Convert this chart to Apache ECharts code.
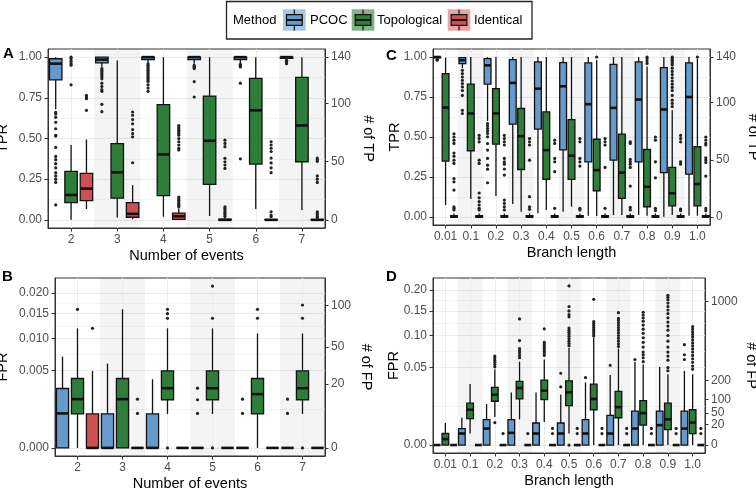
<!DOCTYPE html>
<html><head><meta charset="utf-8">
<script src="https://cdn.jsdelivr.net/npm/echarts@6/dist/echarts.min.js"></script>
<style>html,body{margin:0;padding:0;background:#fff}#c{width:756px;height:490px}</style>
</head><body><div id="c"></div>
<script>
// ---------------- data ----------------
const methods = ['PCOC', 'Topological', 'Identical'];
const eventCats = ['2', '3', '4', '5', '6', '7'];
const branchCats = ['0.01', '0.1', '0.2', '0.3', '0.4', '0.5', '0.6', '0.7', '0.8', '0.9', '1.0'];
const tprTicks = [0, 0.25, 0.5, 0.75, 1];
const tpTicks = [0, 50, 100, 140];
const fprTicksB = [0, 0.005, 0.01, 0.015, 0.02];
const fpTicksB = [0, 20, 50, 100];
const fprTicksD = [0, 0.05, 0.1, 0.15, 0.2];
const fpTicksD = [0, 20, 50, 100, 200, 1000];
const tpPerTpr = 140;      // secondary axis: TP count at TPR = 1
const fpPerFprB = 5900;    // secondary axis: FP count per unit FPR (panel B)
const fpPerFprD = 5800;    // secondary axis: FP count per unit FPR (panel D)

// box stats: [lower whisker, Q1, median, Q3, upper whisker]
// Panel A: TPR vs number of events
const A_pcoc = [[0.68,0.86,0.96,0.99,1.0],[0.94,0.965,0.985,1.0,1.0],[0.97,0.985,1.0,1.0,1.0],[0.96,0.985,1.0,1.0,1.0],[0.96,0.985,1.0,1.0,1.0],[0.985,0.993,1.0,1.0,1.0]];
const A_topo = [[0.0,0.106,0.153,0.298,0.46],[0.014,0.133,0.292,0.469,0.98],[0.02,0.149,0.402,0.708,1.0],[0.024,0.218,0.486,0.761,1.0],[0.067,0.343,0.673,0.869,1.0],[0.061,0.357,0.58,0.876,1.0]];
const A_iden = [[0.067,0.118,0.192,0.286,0.494],[0.004,0.016,0.037,0.106,0.214],[0.0,0.003,0.022,0.042,0.07],[0.0,0.0,0.0,0.004,0.01],[0.0,0.0,0.0,0.002,0.005],[0.0,0.0,0.0,0.002,0.005]];
const A_pcocOut = [[0.66,0.65,0.63,0.6,0.56,0.52,0.515,0.445,0.39,0.37,0.345,0.32,0.29,0.27,0.25,0.23,0.092],[0.93,0.92,0.91,0.9,0.89,0.88,0.867,0.84,0.82,0.8,0.79,0.71,0.665],[0.96,0.95,0.94,0.93,0.92,0.91,0.9,0.89,0.88,0.87,0.86,0.85,0.83,0.81,0.79],[0.95,0.945,0.94,0.935,0.93,0.85,0.755],[0.955,0.95,0.945,0.94,0.84,0.375],[0.98,0.975,0.97,0.96]];
const A_topoOut = [[1.0,0.99,0.975,0.96,0.95,0.83],[],[],[],[],[]];
const A_idenOut = [[0.765,0.755,0.745,0.673],[0.663,0.643,0.616,0.59,0.555,0.53,0.51,0.351],[0.58,0.57,0.56,0.55,0.54,0.53,0.52,0.5,0.48,0.46,0.44,0.43,0.14,0.13,0.12,0.11,0.1,0.09,0.08],[0.49,0.47,0.45,0.378,0.357,0.337,0.316,0.08,0.07,0.06,0.05,0.04,0.03,0.02],[0.48,0.46,0.44,0.42,0.38,0.35,0.32,0.29,0.05,0.03,0.02],[0.38,0.37,0.36,0.27,0.25,0.23,0.05,0.04,0.03,0.02,0.015]];

// Panel B: FPR vs number of events
const B_pcoc = [[0,0,0.00099,0.00294,0.00694],[0,0,0,0.00096,0.00592],[0,0,0,0.00096,0.00393],[0,0,0,0,0],[0,0,0,0,0],[0,0,0,0,0]];
const B_topo = [[0,0.00096,0.00198,0.00401,0.0119],[0,0,0.00198,0.00401,0.016],[0.00096,0.00193,0.00297,0.00494,0.0119],[0.00096,0.00193,0.00297,0.00494,0.0119],[0,0.00096,0.00241,0.00401,0.0109],[0.00096,0.00193,0.00297,0.00494,0.0109]];
const B_iden = [[0,0,0,0.00096,0.00494],[0,0,0,0,0],[0,0,0,0,0],[0,0,0,0,0],[0,0,0,0,0],[0,0,0,0,0]];
const B_pcocOut = [[],[],[],[0.00297,0.00193,0.00099],[0.00198,0.00099],[0.00198,0.00099]];
const B_topoOut = [[0.016],[],[0.016,0.015,0.014,0],[0.0218,0.014,0],[0.016,0.014],[0.017,0.014,0]];
const B_idenOut = [[0.0119],[0.00198,0.00099],[],[],[],[]];

// Panel C: TPR vs branch length
const C_pcoc = [[0.99,0.995,1.0,1.0,1.0],[0.93,0.958,0.98,0.996,1.0],[0.6,0.83,0.948,0.99,1.0],[0.081,0.58,0.838,0.983,1.0],[0.023,0.549,0.802,0.969,1.0],[0.033,0.42,0.817,0.965,1.0],[0.008,0.345,0.705,0.963,1.0],[0.012,0.355,0.682,0.954,1.0],[0.012,0.345,0.734,0.969,1.0],[0.002,0.277,0.672,0.933,1.0],[0.008,0.268,0.75,0.963,1.0]];
const C_topo = [[0.075,0.349,0.684,0.896,0.996],[0.112,0.414,0.647,0.83,1.0],[0.131,0.455,0.647,0.802,1.0],[0.033,0.297,0.505,0.678,1.0],[0.044,0.235,0.418,0.657,1.0],[0.064,0.235,0.383,0.609,1.0],[0.006,0.164,0.293,0.486,0.98],[0.012,0.116,0.277,0.518,1.0],[0.008,0.064,0.189,0.422,0.94],[0.012,0.069,0.148,0.31,0.667],[0.008,0.069,0.206,0.439,0.99]];
const C_iden = [[0,0,0.002,0.008,0.022],[0,0,0.002,0.008,0.022],[0,0,0.002,0.008,0.022],[0,0,0.002,0.008,0.022],[0,0,0.002,0.008,0.022],[0,0,0.002,0.008,0.022],[0,0,0.002,0.008,0.022],[0,0,0.002,0.008,0.022],[0,0,0.002,0.008,0.022],[0,0,0.002,0.008,0.022],[0,0,0.002,0.008,0.022]];
const C_pcocOut = [[0.985,0.98],[0.917,0.896,0.875,0.854,0.834,0.813,0.79,0.76,0.667,0.647],[0.584,0.568,0.553,0.538,0.522,0.501,0.459,0.418,0.366,0.324,0.299,0.214],[],[],[],[],[],[],[],[]];
const C_topoOut = [[],[],[],[],[],[],[1.0],[],[1.0,0.99,0.975,0.96],[1.0,0.99,0.98,0.97,0.96,0.95,0.93,0.91,0.89,0.87,0.85,0.83,0.81,0.79,0.76,0.73,0.71,0.69],[1.0]];
const C_idenOut = [[0.52,0.5,0.48,0.46,0.4,0.38,0.355,0.335,0.24,0.22,0.168,0.064,0.054,0.044],[0.51,0.49,0.47,0.355,0.335,0.15,0.12,0.096,0.075,0.054,0.044],[0.51,0.49,0.47,0.45,0.366,0.345,0.33,0.3,0.262,0.106,0.085,0.064,0.044],[0.49,0.47,0.45,0.355,0.127,0.064,0.048],[0.48,0.46,0.366,0.345,0.283,0.054],[0.49,0.47,0.366,0.345,0.318,0.054,0.044],[0.49,0.47,0.45,0.31,0.054],[0.47,0.46,0.36,0.345,0.33,0.31,0.193,0.06,0.044],[0.5,0.48,0.345,0.245,0.054,0.04],[0.51,0.49,0.47,0.345,0.33,0.05,0.04],[0.5,0.48,0.46,0.45,0.37,0.355,0.34,0.256,0.054,0.04]];

// Panel D: FPR vs branch length
const D_pcoc = [[0,0,0,0,0],[0,0,0.00111,0.00226,0.00623],[0,0,0.00226,0.00536,0.0141],[0,0,0.00124,0.00536,0.0231],[0,0,0.00111,0.00406,0.0231],[0,0,0.00111,0.00406,0.0212],[0,0,0.00111,0.00536,0.0327],[0,0,0.0011,0.0073,0.041],[0,0,0.00226,0.0096,0.058],[0,0,0.0033,0.0096,0.0508],[0,0,0.00226,0.0096,0.0458]];
const D_topo = [[0,0,0.00029,0.00111,0.00406],[0.0011,0.0058,0.0104,0.0146,0.031],[0.0065,0.016,0.0212,0.0277,0.0478],[0.0055,0.0177,0.0271,0.0337,0.0579],[0.0044,0.0172,0.0246,0.0351,0.0611],[0.0011,0.013,0.0232,0.0344,0.0787],[0,0.0104,0.0177,0.031,0.0955],[0,0.0062,0.012,0.024,0.0776],[0,0.0033,0.0085,0.0165,0.054],[0,0.002,0.0055,0.0146,0.0418],[0,0.0011,0.0042,0.0104,0.0418]];
const D_iden = [[0,0,0,0,0],[0,0,0,0,0],[0,0,0,0,0],[0,0,0,0,0],[0,0,0,0,0],[0,0,0,0,0],[0,0,0,0,0],[0,0,0,0,0],[0,0,0,0,0],[0,0,0,0,0],[0,0,0,0,0]];
const D_pcocOut = [[],[],[],[],[],[0.043,0.0283],[0.038],[0.053],[0.061],[],[0.084,0.068,0.061]];
const D_topoOut = [[],[],[0.066,0.063,0.06,0.057,0.054,0.051,0.0042],[0.1326,0.0909,0.0776,0.074,0.071,0.067,0.0635],[0.1127,0.088,0.085,0.082,0.079,0.076,0.073,0.07,0.067],[0.211,0.16,0.15,0.142,0.137,0.114,0.11,0.106,0.102,0.098,0.094,0.09,0.086,0.082,0],[0.177,0.127,0.123,0.119,0.115,0.111,0.107,0.103,0.099],[0.146,0.134,0.13,0.125,0.12,0.115,0.11,0.105,0.1,0.095,0.09,0.085,0.081],[0.147,0.141,0.135,0.128,0.12,0.112,0.104,0.096,0.088,0.08,0.072,0.068,0.0635,0.058],[0.187,0.182,0.176,0.168,0.16,0.152,0.144,0.135,0.126,0.118,0.11,0.1,0.09,0.08,0.072,0.066,0.06,0.05,0.046],[0.117,0.112,0.107,0.102,0.097,0.092,0.087,0.082,0.077,0.072,0.067,0.062,0.057,0.052,0.048]];
const D_idenOut = [[],[],[0.0011],[0.0011],[0.0023,0.0011],[0.0023,0.0011],[0.0023,0.0011],[0.0023,0.0011],[0.0023,0.0011],[0.0023,0.0011],[0.0023,0.0011]];

// ---------------- style ----------------
const FONT = '"Liberation Sans", Arial, Helvetica, sans-serif';
const fills = ['#6699cc', '#2f7d3b', '#cd4f4f'];
const keyFills = ['#a9c5e2', '#82b48a', '#e8a5a5'];
const DODGE = 0.333, BOXW = 0.27;

const panels = [
  {tag:'A', tagPos:[8,54], grid:{left:48, top:49, width:277, height:179}, cats:eventCats,
   boxes:[A_pcoc,A_topo,A_iden], outs:[A_pcocOut,A_topoOut,A_idenOut], sqrt:false,
   ticks:tprTicks, rticks:tpTicks, rscale:tpPerTpr, digits:2, yName:'TPR', rName:'# of TP', xName:'Number of events', lgap:38, rgap:35},
  {tag:'B', tagPos:[7,277], grid:{left:55, top:278, width:270, height:178}, cats:eventCats,
   boxes:[B_pcoc,B_topo,B_iden], outs:[B_pcocOut,B_topoOut,B_idenOut], sqrt:true,
   ticks:fprTicksB, rticks:fpTicksB, rscale:fpPerFprB, digits:3, yName:'FPR', rName:'# of FP', xName:'Number of events', lgap:45, rgap:33},
  {tag:'C', tagPos:[391,56], grid:{left:433, top:49, width:277, height:176}, cats:branchCats,
   boxes:[C_pcoc,C_topo,C_iden], outs:[C_pcocOut,C_topoOut,C_idenOut], sqrt:false,
   ticks:tprTicks, rticks:tpTicks, rscale:tpPerTpr, digits:2, yName:'TPR', rName:'# of TP', xName:'Branch length', lgap:31, rgap:35},
  {tag:'D', tagPos:[391,277], grid:{left:433, top:278, width:272, height:175}, cats:branchCats,
   boxes:[D_pcoc,D_topo,D_iden], outs:[D_pcocOut,D_topoOut,D_idenOut], sqrt:true,
   ticks:fprTicksD, rticks:fpTicksD, rscale:fpPerFprD, digits:2, yName:'FPR', rName:'# of FP', xName:'Branch length', lgap:32, rgap:38}
];

function boxRender(mIdx, color) {
  return function (params, api) {
    const idx = api.value(0);
    const band = api.size([1, 0])[0];
    const cx = api.coord([idx, 0])[0] + (mIdx - 1) * DODGE * band;
    const hw = BOXW * band / 2;
    const y = k => api.coord([idx, api.value(k)])[1];
    const yLo = y(1), yQ1 = y(2), yMed = y(3), yQ3 = y(4), yHi = y(5);
    const ln = {stroke:'#111', lineWidth:1.3};
    return {type:'group', children:[
      {type:'line', shape:{x1:cx, y1:yQ3, x2:cx, y2:yHi}, style:ln},
      {type:'line', shape:{x1:cx, y1:yQ1, x2:cx, y2:yLo}, style:ln},
      {type:'rect', shape:{x:cx-hw, y:yQ3, width:2*hw, height:Math.max(yQ1-yQ3, 0)}, style:{fill:color, stroke:'#111', lineWidth:1.3}},
      {type:'line', shape:{x1:cx-hw, y1:yMed, x2:cx+hw, y2:yMed}, style:{stroke:'#111', lineWidth:2.6}}
    ]};
  };
}
function outRender(mIdx) {
  return function (params, api) {
    const idx = api.value(0);
    const band = api.size([1, 0])[0];
    const p = api.coord([idx, api.value(1)]);
    return {type:'circle', shape:{cx:p[0] + (mIdx - 1) * DODGE * band, cy:p[1], r:1.6}, style:{fill:'#222'}};
  };
}

const grids = [], xAxes = [], yAxes = [], series = [], graphics = [];
const labelStyle = {color:'#4d4d4d', fontSize:12, fontFamily:FONT};
const nameStyle = {color:'#000', fontSize:14.5, fontFamily:FONT};

panels.forEach((P, g) => {
  const tr = P.sqrt ? Math.sqrt : (v => v);
  const all = [];
  P.boxes.forEach(b => b.forEach(r => r.forEach(v => all.push(v))));
  P.outs.forEach(o => o.forEach(r => r.forEach(v => all.push(v))));
  const tmin = tr(Math.min(...all)), tmax = tr(Math.max(...all));
  const lo = tmin - 0.05 * (tmax - tmin), hi = tmax + 0.05 * (tmax - tmin);
  const majors = P.ticks.map(tr);
  const minors = [];
  for (let i = 0; i < majors.length - 1; i++) minors.push((majors[i] + majors[i+1]) / 2);
  const rf = P.sqrt ? Math.sqrt(P.rscale) : P.rscale;
  const rtr = P.sqrt ? Math.sqrt : (v => v);

  grids.push(Object.assign({show:true, backgroundColor:'#fff', borderColor:'#333', borderWidth:1, outerBoundsMode:'none'}, P.grid));
  xAxes.push({
    type:'category', gridIndex:g, data:P.cats, boundaryGap:true,
    axisLine:{show:true, onZero:false, lineStyle:{color:'#333', width:1}},
    axisTick:{show:true, alignWithLabel:true, interval:0, length:3.5, lineStyle:{color:'#333'}},
    axisLabel:Object.assign({interval:0, margin:6}, labelStyle),
    splitArea:{show:true, interval:0, areaStyle:{color:['rgba(0,0,0,0)', 'rgba(0,0,0,0.045)']}},
    splitLine:{show:true, interval:0, alignWithLabel:true, lineStyle:{color:'#ebebeb', width:1}},
    name:P.xName, nameLocation:'middle', nameGap:20, nameTextStyle:nameStyle, nameMoveOverlap:false
  });
  const base = yAxes.length;
  yAxes.push({
    type:'value', gridIndex:g, position:'left', min:lo, max:hi,
    axisLine:{show:true, onZero:false, lineStyle:{color:'#333'}},
    axisTick:{show:true, length:3.5, customValues:majors, lineStyle:{color:'#333'}},
    axisLabel:Object.assign({margin:6, customValues:majors,
      formatter:v => { const x = P.sqrt ? v * v : v; return (Math.round(x * 1e6) / 1e6).toFixed(P.digits); }}, labelStyle),
    splitLine:{show:true, lineStyle:{color:'#ebebeb', width:1}},
    name:P.yName, nameLocation:'middle', nameGap:P.lgap, nameRotate:90, nameTextStyle:nameStyle, nameMoveOverlap:false
  });
  yAxes.push({
    type:'value', gridIndex:g, position:'right', min:lo * rf, max:hi * rf,
    axisLine:{show:true, onZero:false, lineStyle:{color:'#333'}},
    axisTick:{show:true, length:3.5, customValues:P.rticks.map(rtr), lineStyle:{color:'#333'}},
    axisLabel:Object.assign({margin:6, customValues:P.rticks.map(rtr),
      formatter:v => String(Math.round(P.sqrt ? v * v : v))}, labelStyle),
    splitLine:{show:false},
    name:P.rName, nameLocation:'middle', nameGap:P.rgap, nameRotate:-90, nameTextStyle:nameStyle, nameMoveOverlap:false
  });
  yAxes.push({
    type:'value', gridIndex:g, position:'left', min:lo, max:hi,
    axisLine:{show:false}, axisLabel:{show:false},
    axisTick:{show:false, customValues:minors},
    splitLine:{show:true, lineStyle:{color:'#f3f3f3', width:0.8}}
  });

  methods.forEach((m, mi) => {
    series.push({
      type:'custom', name:m, xAxisIndex:g, yAxisIndex:base, z:3,
      renderItem:boxRender(mi, fills[mi]),
      encode:{x:0, y:[1,2,3,4,5]},
      data:P.boxes[mi].map((b, i) => [i].concat(b.map(tr)))
    });
    const od = [];
    P.outs[mi].forEach((arr, i) => arr.forEach(v => od.push([i, tr(v)])));
    series.push({
      type:'custom', name:m + ' outliers', xAxisIndex:g, yAxisIndex:base, z:4,
      renderItem:outRender(mi), encode:{x:0, y:1}, data:od
    });
  });

  graphics.push({type:'text', left:P.tagPos[0] - 5, top:P.tagPos[1] - 8,
    style:{text:P.tag, font:'bold 15px ' + FONT, fill:'#000'}});
});

// legend (drawn as graphics)
const legX = [283, 351.7, 447.7], legTextX = [310, 377, 474];
graphics.push({type:'rect', shape:{x:226.5, y:1.5, width:305.5, height:37.5}, style:{fill:'#fff', stroke:'#222', lineWidth:1.3}});
graphics.push({type:'text', x:233, y:20.5, style:{text:'Method', font:'13px ' + FONT, fill:'#000', textVerticalAlign:'middle'}});
methods.forEach((m, i) => {
  const x = legX[i];
  graphics.push({type:'rect', shape:{x:x, y:9.3, width:22.7, height:21.4}, style:{fill:keyFills[i], stroke:null}});
  graphics.push({type:'line', shape:{x1:x+11.35, y1:9.6, x2:x+11.35, y2:30.4}, style:{stroke:'#111', lineWidth:1.2}});
  graphics.push({type:'rect', shape:{x:x+3.5, y:14.6, width:15.7, height:10.8}, style:{fill:fills[i], stroke:'#111', lineWidth:1.2}});
  graphics.push({type:'line', shape:{x1:x+3.5, y1:20, x2:x+19.2, y2:20}, style:{stroke:'#111', lineWidth:2}});
  graphics.push({type:'text', x:legTextX[i], y:20.5, style:{text:m, font:'13px ' + FONT, fill:'#000', textVerticalAlign:'middle'}});
});

const chart = echarts.init(document.getElementById('c'), null, {renderer:'canvas', width:756, height:490});
chart.setOption({
  animation:false, backgroundColor:'#fff',
  textStyle:{fontFamily:FONT},
  grid:grids, xAxis:xAxes, yAxis:yAxes, series:series, graphic:graphics
});
</script></body></html>
